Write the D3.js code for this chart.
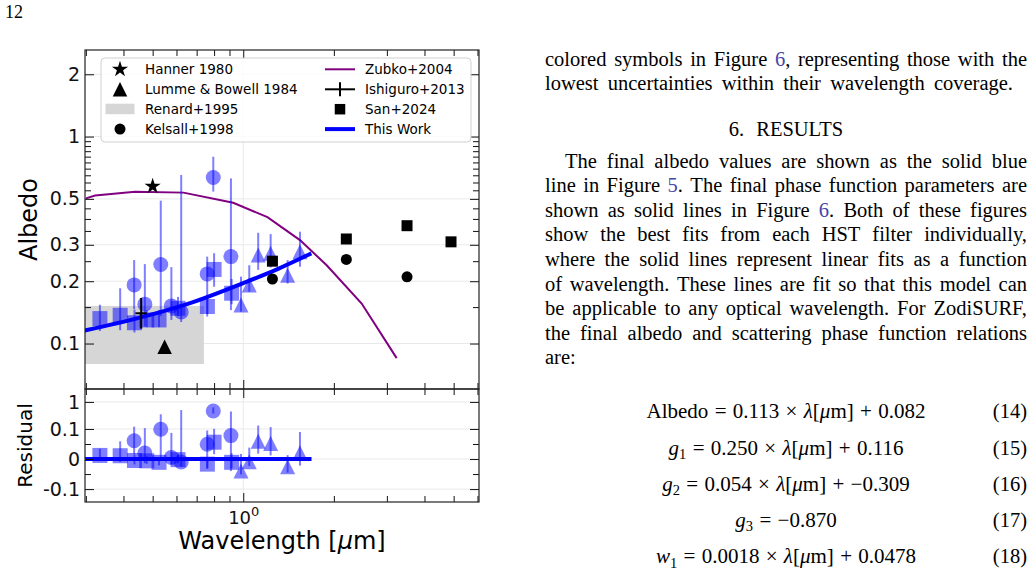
<!DOCTYPE html>
<html>
<head>
<meta charset="utf-8">
<script src="https://cdn.jsdelivr.net/npm/d3@7"></script>
<style>
  body { margin: 0; background: #fff; }
  svg { display: block; }
</style>
</head>
<body>
<script>
// ---- values ----

// this work: albedo per HST filter (blue symbols)
const filterMarker = ['square', 'square', 'circle', 'square', 'circle', 'square', 'square', 'circle', 'circle', 'square',
  'circle', 'circle', 'square', 'circle', 'square', 'circle', 'square',
  'triangle', 'triangle', 'triangle', 'triangle', 'triangle', 'triangle']
const filterWave = [0.334, 0.39, 0.434, 0.435, 0.471, 0.478, 0.525, 0.532, 0.577, 0.607,
  0.622, 0.759, 0.76, 0.795, 0.8, 0.91, 0.915,
  0.983, 1.047, 1.121, 1.233, 1.404, 1.543]
const filterAlbedo = [0.132, 0.137, 0.192, 0.126, 0.155, 0.13, 0.13, 0.241, 0.152, 0.148,
  0.142, 0.217, 0.151, 0.634, 0.228, 0.263, 0.175,
  0.1535, 0.192, 0.268, 0.273, 0.214, 0.278]
const filterErrLo = [0.017, 0.021, 0.045, 0.013, 0.034, 0.01, 0.01, 0.105, 0.022, 0.012,
  0.015, 0.082, 0.012, 0.092, 0.04, 0.118, 0.02,
  0.011, 0.014, 0.041, 0.04, 0.019, 0.043]
const filterErrHi = [0.022, 0.048, 0.061, 0.02, 0.087, 0.015, 0.015, 0.249, 0.082, 0.02,
  0.51, 0.046, 0.015, 0.165, 0.045, 0.365, 0.03,
  0.057, 0.047, 0.075, 0.065, 0.039, 0.069]
const filterResidual = [0.012, 0.011, 0.061, -0.005, 0.02, -0.006, -0.011, 0.099, 0.005, -0.002,
  -0.01, 0.049, -0.017, 0.462, 0.056, 0.078, -0.011,
  -0.04, -0.009, 0.059, 0.052, -0.026, 0.021]

// this work: fitted albedo (blue line)
const fitWave = [0.3, 0.45, 0.65, 1.0, 1.3, 1.66]
const fitAlbedo = [0.116, 0.133, 0.155, 0.196, 0.229, 0.27]
const fitResidual = [0, 0, 0, 0, 0, 0]

// Zubko+2004 (purple line)
const zubkoWave = [0.3, 0.322, 0.437, 0.633, 0.926, 1.203, 1.543, 1.893, 2.474, 3.233]
const zubkoAlbedo = [0.503, 0.519, 0.541, 0.536, 0.479, 0.408, 0.316, 0.239, 0.156, 0.085]

// Hanner 1980
const hannerWave = [0.5]
const hannerAlbedo = [0.575]
// Lumme & Bowell 1984
const lummeWave = [0.548]
const lummeAlbedo = [0.0965]
// Renard+1995 (range)
const renardWave = [0.2, 0.74]
const renardAlbedo = [0.0796, 0.152]
// Kelsall+1998
const kelsallWave = [1.25, 2.2, 3.5]
const kelsallAlbedo = [0.205, 0.255, 0.21]
// Ishiguro+2013
const ishiguroWave = [0.458]
const ishiguroWaveErr = [0.02]
const ishiguroAlbedo = [0.14]
const ishiguroErrLo = [0.022]
const ishiguroErrHi = [0.026]
// San+2024
const sanWave = [1.25, 2.2, 3.5, 4.9]
const sanAlbedo = [0.25, 0.32, 0.371, 0.31]

// ticks
const xMajorTicks = [1]
const xMinorTicks = [0.3, 0.4, 0.5, 0.6, 0.7, 0.8, 0.9, 2, 3, 4, 5, 6]
const albedoTicks = [0.1, 0.2, 0.3, 0.5, 1, 2]
const albedoMinorTicks = [0.15, 0.25, 0.35, 0.4, 0.45, 0.55, 0.6, 0.65, 0.7, 0.75, 0.8, 0.85, 0.9, 0.95]
const residTicks = [-0.1, 0, 0.1, 1]
const residMinorTicks = [-0.05, 0.05]

// page text
const pageNumber = '12'
const para1 = [
  'colored symbols in Figure {6}, representing those with the',
  'lowest uncertainties within their wavelength coverage.',
]
const heading = '6. RESULTS'
const para2 = [
  'The final albedo values are shown as the solid blue',
  'line in Figure {5}. The final phase function parameters are',
  'shown as solid lines in Figure {6}. Both of these figures',
  'show the best fits from each HST filter individually,',
  'where the solid lines represent linear fits as a function',
  'of wavelength. These lines are fit so that this model can',
  'be applicable to any optical wavelength. For ZodiSURF,',
  'the final albedo and scattering phase function relations',
  'are:',
]
const equations = [
  'Albedo = 0.113 × *λ*[*μ*m] + 0.082',
  '*g*_1 = 0.250 × *λ*[*μ*m] + 0.116',
  '*g*_2 = 0.054 × *λ*[*μ*m] + −0.309',
  '*g*_3 = −0.870',
  '*w*_1 = 0.0018 × *λ*[*μ*m] + 0.0478',
]
const equationNumbers = ['(14)', '(15)', '(16)', '(17)', '(18)']

// ---- drawing ----
const FONT = 'DejaVu Sans'
const SERIF = 'Liberation Serif'
const LINK = '#4646aa'
const GRID = '#e9e9e9'
const BLUE = '#0000ff'

const PANEL = { LEFT: 85, RIGHT: 479, TOP: 50, MID: 389, BOTTOM: 502 }

const svg = d3.select('body').append('svg').attr('width', 1036).attr('height', 586)
svg.append('rect').attr('width', 1036).attr('height', 586).attr('fill', '#fff')

// matplotlib style symlog (base 10, linscale 1)
function symlogScale(domain, range, linthresh) {
  const k = 1 / (1 - 1 / 10)
  const tf = v => {
    const a = Math.abs(v)
    if (a <= linthresh) return v * k
    return Math.sign(v) * linthresh * (k + Math.log10(a / linthresh))
  }
  const lin = d3.scaleLinear().domain(domain.map(tf)).range(range)
  const scale = v => lin(tf(v))
  scale.domain = () => domain
  scale.range = () => lin.range()
  scale.copy = () => symlogScale(domain, range, linthresh)
  return scale
}

const x = d3.scaleLog().domain([0.298, 6.07]).range([PANEL.LEFT, PANEL.RIGHT])
const y = d3.scaleLog().domain([0.0603, 2.62]).range([PANEL.MID, PANEL.TOP])
const yRes = symlogScale([-0.3, 3], [PANEL.BOTTOM, PANEL.MID], 0.1)

function markerPath(type, size) {
  const h = size / 2
  if (type === 'square') return `M${-h},${-h}H${h}V${h}H${-h}Z`
  if (type === 'triangle') return `M0,${-h}L${h},${h}L${-h},${h}Z`
  if (type === 'star') return d3.symbol(d3.symbolStar, h * h / 0.8908)()
  return d3.symbol(d3.symbolCircle, Math.PI * h * h)()
}

const defs = svg.append('defs')
defs.append('clipPath').attr('id', 'clip-top').append('rect')
  .attr('x', PANEL.LEFT).attr('y', PANEL.TOP)
  .attr('width', PANEL.RIGHT - PANEL.LEFT).attr('height', PANEL.MID - PANEL.TOP)
defs.append('clipPath').attr('id', 'clip-bot').append('rect')
  .attr('x', PANEL.LEFT).attr('y', PANEL.MID)
  .attr('width', PANEL.RIGHT - PANEL.LEFT).attr('height', PANEL.BOTTOM - PANEL.MID)

const gTop = svg.append('g').attr('clip-path', 'url(#clip-top)')
const gBot = svg.append('g').attr('clip-path', 'url(#clip-bot)')

// grid
gTop.selectAll('.hgrid').data(albedoTicks).join('line')
  .attr('x1', PANEL.LEFT).attr('x2', PANEL.RIGHT)
  .attr('y1', d => y(d)).attr('y2', d => y(d))
  .attr('stroke', GRID)
gBot.selectAll('.hgrid').data(residTicks).join('line')
  .attr('x1', PANEL.LEFT).attr('x2', PANEL.RIGHT)
  .attr('y1', d => yRes(d)).attr('y2', d => yRes(d))
  .attr('stroke', GRID)
;[[gTop, PANEL.TOP, PANEL.MID], [gBot, PANEL.MID, PANEL.BOTTOM]].forEach(([g, y1, y2]) => {
  g.selectAll('.vgrid').data(xMajorTicks).join('line')
    .attr('x1', d => x(d)).attr('x2', d => x(d))
    .attr('y1', y1).attr('y2', y2)
    .attr('stroke', GRID)
})

// Renard+1995 range
gTop.append('rect')
  .attr('x', x(renardWave[0]))
  .attr('width', x(renardWave[1]) - x(renardWave[0]))
  .attr('y', y(renardAlbedo[1]))
  .attr('height', y(renardAlbedo[0]) - y(renardAlbedo[1]))
  .attr('fill', '#d6d6d6')

// Zubko+2004
const line = d3.line().x(d => x(d[0])).y(d => y(d[1]))
gTop.append('path')
  .attr('d', line(d3.zip(zubkoWave, zubkoAlbedo)))
  .attr('fill', 'none')
  .attr('stroke', '#800080')
  .attr('stroke-width', 2)

// this work: points with error bars
const points = filterWave.map((w, i) => ({
  w,
  a: filterAlbedo[i],
  lo: filterErrLo[i],
  hi: filterErrHi[i],
  r: filterResidual[i],
  m: filterMarker[i],
}))

function drawPoints(g, yScale, val) {
  g.append('g').selectAll('line').data(points).join('line')
    .attr('x1', d => x(d.w)).attr('x2', d => x(d.w))
    .attr('y1', d => yScale(val(d) - d.lo))
    .attr('y2', d => yScale(val(d) + d.hi))
    .attr('stroke', BLUE)
    .attr('stroke-opacity', 0.5)
    .attr('stroke-width', 2)
  g.append('g').selectAll('path').data(points).join('path')
    .attr('d', d => markerPath(d.m, 15))
    .attr('transform', d => `translate(${x(d.w)},${yScale(val(d))})`)
    .attr('fill', BLUE)
    .attr('fill-opacity', 0.5)
}
drawPoints(gTop, y, d => d.a)
drawPoints(gBot, yRes, d => d.r)

// fit line
const fitLine = d3.line().curve(d3.curveMonotoneX).x(d => x(d[0])).y(d => y(d[1]))
gTop.append('path')
  .attr('d', fitLine(d3.zip(fitWave, fitAlbedo)))
  .attr('fill', 'none').attr('stroke', BLUE).attr('stroke-width', 4).attr('stroke-linecap', 'square')
const resLine = d3.line().x(d => x(d[0])).y(d => yRes(d[1]))
gBot.append('path')
  .attr('d', resLine(d3.zip(fitWave, fitResidual)))
  .attr('fill', 'none').attr('stroke', BLUE).attr('stroke-width', 4).attr('stroke-linecap', 'square')

// literature values (black)
function blackMarks(g, waves, albs, type, size) {
  g.append('g').selectAll('path').data(d3.zip(waves, albs)).join('path')
    .attr('d', markerPath(type, size))
    .attr('transform', d => `translate(${x(d[0])},${y(d[1])})`)
    .attr('fill', '#000')
}
blackMarks(gTop, hannerWave, hannerAlbedo, 'star', 17)
blackMarks(gTop, lummeWave, lummeAlbedo, 'triangle', 14.5)
blackMarks(gTop, kelsallWave, kelsallAlbedo, 'circle', 11)
blackMarks(gTop, sanWave, sanAlbedo, 'square', 11)

const ish = gTop.append('g').attr('stroke', '#000').attr('stroke-width', 2)
ishiguroWave.forEach((w, i) => {
  ish.append('line')
    .attr('x1', x(w)).attr('x2', x(w))
    .attr('y1', y(ishiguroAlbedo[i] - ishiguroErrLo[i]))
    .attr('y2', y(ishiguroAlbedo[i] + ishiguroErrHi[i]))
  ish.append('line')
    .attr('x1', x(w - ishiguroWaveErr[i])).attr('x2', x(w + ishiguroWaveErr[i]))
    .attr('y1', y(ishiguroAlbedo[i])).attr('y2', y(ishiguroAlbedo[i]))
})

// ---- axes ----
function drawTicks(g, axis, ticks, size, format, pad) {
  g.call(axis.tickValues(ticks).tickSize(-size).tickPadding(pad || 5).tickFormat(format || (() => '')))
  g.select('.domain').remove()
  g.attr('color', '#111')
  g.selectAll('text').attr('font-family', FONT).attr('font-size', 19).attr('fill', '#111')
}
const axes = svg.append('g')
const fmt = d => String(d)

function panelAxes(yScale, majors, minors, yTop, yBottom) {
  drawTicks(axes.append('g').attr('transform', `translate(${PANEL.LEFT},0)`), d3.axisLeft(yScale), majors, 9, fmt)
  drawTicks(axes.append('g').attr('transform', `translate(${PANEL.LEFT},0)`), d3.axisLeft(yScale), minors, 6)
  drawTicks(axes.append('g').attr('transform', `translate(${PANEL.RIGHT},0)`), d3.axisRight(yScale), majors, 9)
  drawTicks(axes.append('g').attr('transform', `translate(${PANEL.RIGHT},0)`), d3.axisRight(yScale), minors, 6)
  drawTicks(axes.append('g').attr('transform', `translate(0,${yTop})`), d3.axisTop(x), xMajorTicks, 9)
  drawTicks(axes.append('g').attr('transform', `translate(0,${yTop})`), d3.axisTop(x), xMinorTicks, 6)
  drawTicks(axes.append('g').attr('transform', `translate(0,${yBottom})`), d3.axisBottom(x), xMinorTicks, 6)
  const major = axes.append('g').attr('transform', `translate(0,${yBottom})`)
  drawTicks(major, d3.axisBottom(x), xMajorTicks, 9, null, 9)
  return major
}
panelAxes(y, albedoTicks, albedoMinorTicks, PANEL.TOP, PANEL.MID)
const xLabels = panelAxes(yRes, residTicks, residMinorTicks, PANEL.MID, PANEL.BOTTOM)

xLabels.selectAll('.tick text').each(function () {
  const t = d3.select(this).attr('font-size', 18)
  t.append('tspan').text('10')
  t.append('tspan').text('0').attr('font-size', 13).attr('dy', '-0.6em')
})

// frames
;[[PANEL.TOP, PANEL.MID], [PANEL.MID, PANEL.BOTTOM]].forEach(([a, b]) => {
  axes.append('rect')
    .attr('x', PANEL.LEFT).attr('y', a)
    .attr('width', PANEL.RIGHT - PANEL.LEFT).attr('height', b - a)
    .attr('fill', 'none').attr('stroke', '#222').attr('stroke-width', 1.2)
})

// axis titles
const xTitle = axes.append('text')
  .attr('x', (PANEL.LEFT + PANEL.RIGHT) / 2).attr('y', 549)
  .attr('text-anchor', 'middle')
  .attr('font-family', FONT).attr('font-size', 24)
xTitle.append('tspan').text('Wavelength [')
xTitle.append('tspan').text('μ').attr('font-style', 'italic')
xTitle.append('tspan').text('m]')

axes.append('text')
  .attr('transform', `translate(36.5,${(PANEL.TOP + PANEL.MID) / 2}) rotate(-90)`)
  .attr('text-anchor', 'middle')
  .attr('font-family', FONT).attr('font-size', 24)
  .text('Albedo')
axes.append('text')
  .attr('transform', `translate(31.5,${(PANEL.MID + PANEL.BOTTOM) / 2}) rotate(-90)`)
  .attr('text-anchor', 'middle')
  .attr('font-family', FONT).attr('font-size', 20)
  .text('Residual')

// ---- legend ----
const legend = svg.append('g')
legend.append('rect')
  .attr('x', 101).attr('y', 58).attr('width', 370).attr('height', 84).attr('rx', 4)
  .attr('fill', '#fff').attr('fill-opacity', 0.8)
  .attr('stroke', '#d0d0d0')

const legendRows = [69.3, 89.3, 109.2, 129.1]
const col1 = [
  ['Hanner 1980', g => g.append('path').attr('d', markerPath('star', 17))],
  ['Lumme & Bowell 1984', g => g.append('path').attr('d', markerPath('triangle', 14.5))],
  ['Renard+1995', g => g.append('rect').attr('x', -14.5).attr('y', -5.5).attr('width', 29).attr('height', 10.5).attr('fill', '#d6d6d6')],
  ['Kelsall+1998', g => g.append('path').attr('d', markerPath('circle', 11))],
]
const col2 = [
  ['Zubko+2004', g => g.append('line').attr('x1', -15).attr('x2', 15).attr('stroke', '#800080').attr('stroke-width', 2)],
  ['Ishiguro+2013', g => {
    g.append('line').attr('x1', -15).attr('x2', 15).attr('stroke', '#000').attr('stroke-width', 2)
    g.append('line').attr('y1', -7).attr('y2', 7).attr('stroke', '#000').attr('stroke-width', 2)
  }],
  ['San+2024', g => g.append('path').attr('d', markerPath('square', 10.5))],
  ['This Work', g => g.append('line').attr('x1', -15).attr('x2', 15).attr('stroke', BLUE).attr('stroke-width', 4)],
]
;[[col1, 120, 145], [col2, 340, 365]].forEach(([items, hx, tx]) => {
  items.forEach(([label, draw], i) => {
    draw(legend.append('g').attr('transform', `translate(${hx},${legendRows[i]})`).attr('fill', '#000'))
    legend.append('text')
      .attr('x', tx).attr('y', legendRows[i] + 5)
      .attr('font-family', FONT).attr('font-size', 13.5)
      .text(label)
  })
})

// ---- page text ----
const page = svg.append('g').attr('font-family', SERIF).attr('font-size', 20.5).attr('fill', '#000')
page.append('text').attr('x', 5).attr('y', 18).attr('font-size', 18).text(pageNumber)

function segments(word) {
  return word.split(/(\{[^}]+\}|\*[^*]+\*|_\d)/).filter(s => s).map(s => {
    if (s[0] === '{') return [s.slice(1, -1), 'link']
    if (s[0] === '*') return [s.slice(1, -1), 'i']
    if (s[0] === '_') return [s.slice(1), 'sub']
    return [s, 'r']
  })
}

function drawWords(str, x0, yb, target, center, gapNatural, size) {
  const words = str.split(/ +/)
  const nodes = words.map(w => {
    const t = page.append('text').attr('y', yb)
    if (size) t.attr('font-size', size)
    segments(w).forEach(([s, st]) => {
      const ts = t.append('tspan').text(s)
      if (st === 'link') ts.attr('fill', LINK)
      if (st === 'i') ts.attr('font-style', 'italic')
      if (st === 'sub') ts.attr('font-size', 14.5).attr('dy', 4.5)
    })
    return t
  })
  const widths = nodes.map(t => t.node().getComputedTextLength())
  const total = d3.sum(widths)
  const gap = target && words.length > 1 ? (target - total) / (words.length - 1) : (gapNatural || 5.2)
  let cx = center ? x0 - (total + gap * (words.length - 1)) / 2 : x0
  nodes.forEach((t, i) => {
    t.attr('x', cx)
    cx += widths[i] + gap
  })
}

const COL_LEFT = 545
const COL_RIGHT = 1027
const COL_MID = (COL_LEFT + COL_RIGHT) / 2
const LEAD = 24.6

drawWords(para1[0], COL_LEFT, 65.5, COL_RIGHT - COL_LEFT)
drawWords(para1[1], COL_LEFT, 90, 468)
drawWords(heading, COL_MID, 135.5, null, true, 12)
para2.forEach((s, i) => {
  const indent = i === 0 ? 20 : 0
  const last = i === para2.length - 1
  drawWords(s, COL_LEFT + indent, 167.5 + i * LEAD, last ? null : COL_RIGHT - COL_LEFT - indent)
})
equations.forEach((s, i) => {
  const yb = 418.3 + i * 36.2
  drawWords(s, COL_MID, yb, null, true, 6.3, 21)
  page.append('text').attr('x', COL_RIGHT).attr('y', yb).attr('text-anchor', 'end').text(equationNumbers[i])
})
</script>
</body>
</html>
